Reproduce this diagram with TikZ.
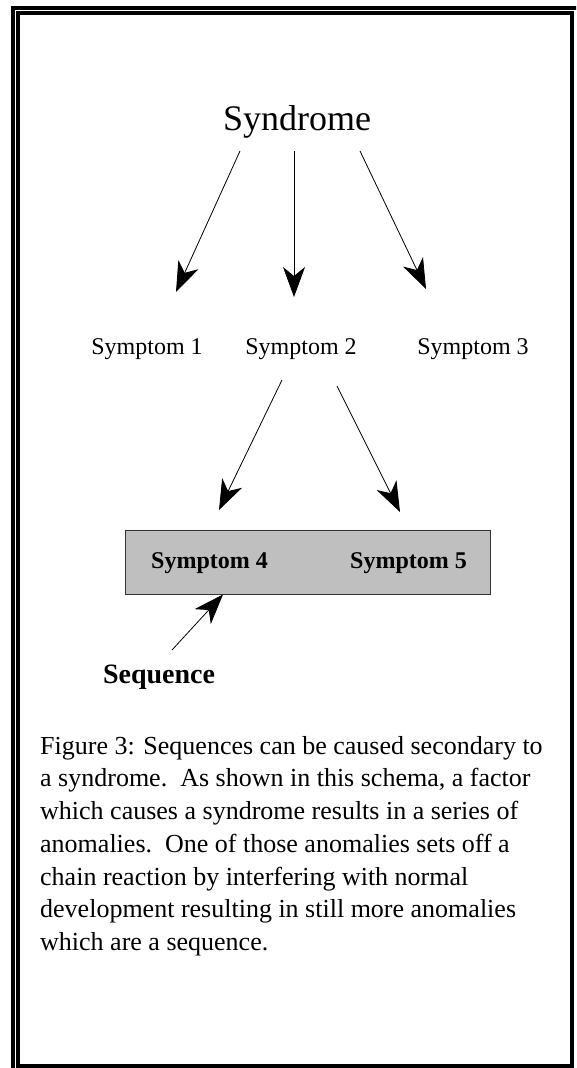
\documentclass[tikz,border=0pt]{standalone}
\usepackage{fontspec}
\setmainfont{Liberation Serif}
\usetikzlibrary{arrows.meta}

\begin{document}
\begin{tikzpicture}[x=1pt,y=-1pt,
        arr/.style={-{Stealth[length=30pt,width=22pt,inset=9pt]},line width=0.8pt},
        lbl/.style={inner sep=0pt,anchor=base}]
        \useasboundingbox (0,0) rectangle (576,1068);
        \clip (0,0) rectangle (576,1068);

        % frame
        \draw[line width=4pt] (13,8) rectangle (640,1120); % outer, runs off the page
        \draw[line width=4pt] (18,13) rectangle (572,1066); % inner

        % labels
        \node[lbl,font=\fontsize{36}{40}\selectfont] (syn) at (297,130) {Syndrome};
        \node[lbl,font=\fontsize{24}{28}\selectfont] (sym1) at (147,354) {Symptom 1};
        \node[lbl,font=\fontsize{24}{28}\selectfont] (sym2) at (301,354) {Symptom 2};
        \node[lbl,font=\fontsize{24}{28}\selectfont] (sym3) at (473,354) {Symptom 3};

        % gray box
        \node[draw=black!80,fill=black!25,line width=1pt,minimum width=365pt,minimum height=64pt] (box) at (307.5,562) {};
        \node[lbl,font=\fontsize{24}{28}\selectfont\bfseries] (sym4) at (209.5,568) {Symptom 4};
        \node[lbl,font=\fontsize{24}{28}\selectfont\bfseries] (sym5) at (408.5,568) {Symptom 5};
        \node[lbl,font=\fontsize{28}{32}\selectfont\bfseries] (seq) at (159,683) {Sequence};

        % arrow ends
        \coordinate (a1) at (240,151); \coordinate (b1) at (176,292);
        \coordinate (a2) at (294,151); \coordinate (b2) at (294,297);
        \coordinate (a3) at (360,151); \coordinate (b3) at (426,289);
        \coordinate (a4) at (282,380); \coordinate (b4) at (219,510);
        \coordinate (a5) at (337,386); \coordinate (b5) at (400,512);
        \coordinate (a6) at (172,650);

        \draw[arr] (a1) -- (b1); % to symptom 1
        \draw[arr] (a2) -- (b2); % to symptom 2
        \draw[arr] (a3) -- (b3); % to symptom 3
        \draw[arr] (a4) -- (b4); % to symptom 4
        \draw[arr] (a5) -- (b5); % to symptom 5
        \draw[arr] (a6) -- (box.south -| 223,0); % sequence

        % caption
        \node[inner sep=0pt,anchor=north west,align=left,font=\fontsize{26}{32.7}\selectfont] (cap) at (40,736) {Figure 3: Sequences can be caused secondary to\\
        a syndrome.\ \ As shown in this schema, a factor\\
        which causes a syndrome results in a series of\\
        anomalies.\ \ One of those anomalies sets off a\\
        chain reaction by interfering with normal\\
        development resulting in still more anomalies\\
        which are a sequence.};
    \end{tikzpicture}
\end{document}
